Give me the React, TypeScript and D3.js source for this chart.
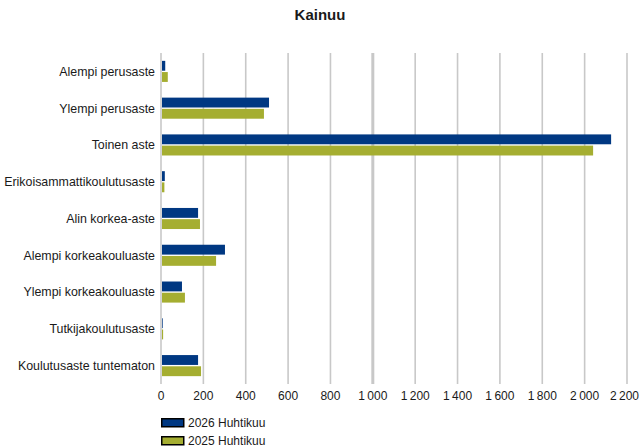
import React from 'react';
import * as d3 from 'd3';

const categories = [
  'Alempi perusaste',
  'Ylempi perusaste',
  'Toinen aste',
  'Erikoisammattikoulutusaste',
  'Alin korkea-aste',
  'Alempi korkeakouluaste',
  'Ylempi korkeakouluaste',
  'Tutkijakoulutusaste',
  'Koulutusaste tuntematon',
];
const seriesNames = ['2026 Huhtikuu', '2025 Huhtikuu'];
const values2026 = [20, 510, 2125, 18, 175, 302, 99, 8, 175];
const values2025 = [32, 486, 2040, 16, 184, 260, 113, 10, 189];
const xTicks = [0, 200, 400, 600, 800, 1000, 1200, 1400, 1600, 1800, 2000, 2200];
const colors = ['#003882', '#a5ae31'];

const font = '"Liberation Sans", Arial, sans-serif';

export default function App() {
  const width = 640;
  const height = 448;
  const margin = { top: 53, right: 13, bottom: 64, left: 161 };

  const xScale = d3
    .scaleLinear()
    .domain([0, 2200])
    .range([margin.left, width - margin.right]);

  const yScale = d3
    .scaleBand()
    .domain(categories)
    .range([margin.top, height - margin.bottom]);

  const inner = d3
    .scaleBand()
    .domain(seriesNames)
    .range([0, yScale.bandwidth()])
    .paddingInner(0.12)
    .paddingOuter(0.7);

  const series = [values2026, values2025];
  const fmt = (v: number) => d3.format(',')(v).replace(/,/g, '\u2009');

  return (
    <svg
      width={width}
      height={height}
      style={{ position: 'absolute', left: 0, top: 0, background: '#fff' }}
      fontFamily={font}
    >
      <text x={320} y={20} textAnchor="middle" fontSize={15} fontWeight="bold" fill="#1a1a1a">
        Kainuu
      </text>

      {/* grid */}
      {xTicks.map((t) => (
        <line
          key={t}
          x1={xScale(t)}
          x2={xScale(t)}
          y1={margin.top}
          y2={height - margin.bottom}
          stroke="#c8c8c8"
          strokeWidth={t === 1000 ? 3 : 1.6}
        />
      ))}

      {/* bars */}
      {series.map((vals, si) =>
        categories.map((c, i) => (
          <rect
            key={`${si}-${c}`}
            x={xScale(0) + 1}
            y={(yScale(c) || 0) + (inner(seriesNames[si]) || 0)}
            width={Math.max(0, xScale(vals[i]) - xScale(0) - 1)}
            height={inner.bandwidth()}
            fill={colors[si]}
          />
        ))
      )}

      {/* category labels */}
      {categories.map((c) => (
        <text
          key={c}
          x={155}
          y={(yScale(c) || 0) + yScale.bandwidth() / 2}
          dy="0.35em"
          textAnchor="end"
          fontSize={12.4}
          fill="#1a1a1a"
        >
          {c}
        </text>
      ))}

      {/* x tick labels */}
      {xTicks.map((t, i) => (
        <text
          key={t}
          x={i === xTicks.length - 1 ? width - 1 : xScale(t)}
          y={400}
          textAnchor={i === xTicks.length - 1 ? 'end' : 'middle'}
          fontSize={12}
          fill="#1a1a1a"
        >
          {fmt(t)}
        </text>
      ))}

      {/* legend */}
      {seriesNames.map((s, i) => (
        <g key={s} transform={`translate(161, ${418 + i * 18})`}>
          <rect x={0.75} y={0.75} width={22} height={8} fill={colors[i]} stroke="#000" strokeWidth={1.5} />
          <text x={27} y={9} fontSize={12} fill="#1a1a1a">
            {s}
          </text>
        </g>
      ))}
    </svg>
  );
}
